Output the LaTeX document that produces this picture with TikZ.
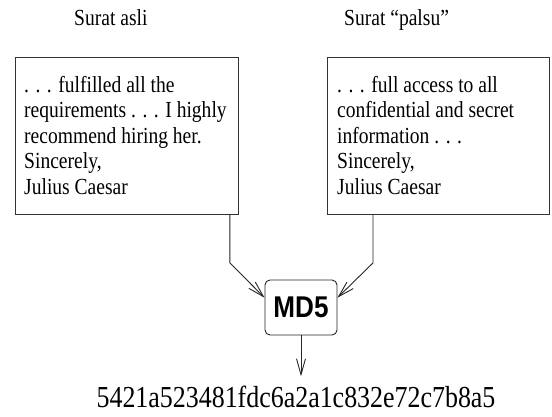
\documentclass[tikz,border=0pt]{standalone}
\usepackage{fontspec}
\setmainfont{Liberation Serif}[FakeStretch=0.85]
\newfontfamily\mdfont{Liberation Sans}[FakeStretch=0.87]
\usetikzlibrary{arrows.meta,calc}
\begin{document}
\begin{tikzpicture}[x=1pt,y=1pt,
  letterbox/.style={draw=black!80, line width=0.9pt, rectangle, inner sep=0pt, anchor=north west},
  bodytext/.style={inner sep=0pt, anchor=north west, align=left, font=\fontsize{23}{25.5}\selectfont},
  titletext/.style={inner sep=0pt, anchor=base west, font=\fontsize{23}{25.5}\selectfont},
  conn/.style={draw=black!85, line width=0.9pt, -{Straight Barb[length=16pt,width=9pt]}}]
\useasboundingbox (0,0) rectangle (552,-416);
% titles
\node[titletext] (t1) at (74,-25) {Surat asli};
\node[titletext] (t2) at (344,-25) {Surat “palsu”};
% letter boxes
\node[letterbox, minimum width=223pt, minimum height=157pt] (asli) at (15,-57) {};
\node[letterbox, minimum width=222pt, minimum height=157pt] (palsu) at (327,-57) {};
\node[bodytext] (aslitext) at (24,-76) {. . . fulfilled all the\\requirements . . . I highly\\recommend hiring her.\\Sincerely,\\Julius Caesar};
\node[bodytext] (palsutext) at (337,-76) {. . . full access to all\\confidential and secret\\information . . .\\Sincerely,\\Julius Caesar};
% MD5 box
\node[draw=black!85, line width=0.9pt, rounded corners=5pt, minimum width=72pt, minimum height=55pt, inner sep=0pt,
      font=\mdfont\bfseries\fontsize{30}{30}\selectfont] (md5) at (301,-307.5) {MD5};
% hash
\node[inner xsep=0pt, inner ysep=9pt, anchor=base, font=\fontsize{30.5}{30.5}\selectfont] (hash) at (296,-407) {5421a523481fdc6a2a1c832e72c7b8a5};
% connectors
\coordinate (lbend) at ($(asli.south east)+(-9,-48)$);
\coordinate (rbend) at ($(palsu.south west)+(46,-48)$);
\draw[conn] ($(asli.south east)+(-9,0)$) -- (lbend) -- (md5.165);
\draw[conn] ($(palsu.south west)+(46,0)$) -- (rbend) -- (md5.15);
\draw[conn] (md5.south) -- (hash.north -| md5.south);
\end{tikzpicture}
\end{document}
